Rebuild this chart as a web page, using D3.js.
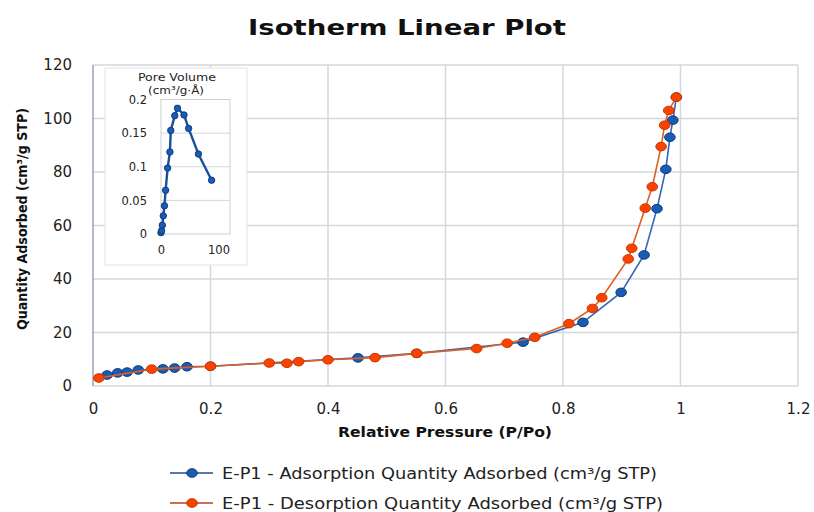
<!DOCTYPE html>
<html>
<head>
<meta charset="utf-8">
<script src="https://cdn.jsdelivr.net/npm/d3@7"></script>
<style>
  body { margin: 0; background: #fff; }
  text { font-family: "DejaVu Sans", sans-serif; }
</style>
</head>
<body>
<div id="chart"></div>
<script>
// isotherm, adsorption branch (P/Po, cm3/g STP)
var adsP = [0.024, 0.042, 0.058, 0.077, 0.119, 0.139, 0.16, 0.2, 0.451, 0.551, 0.732, 0.834, 0.899, 0.938, 0.96, 0.975, 0.982, 0.987, 0.993]
var adsQ = [4.1, 4.9, 5.2, 6.0, 6.4, 6.7, 7.2, 7.4, 10.5, 12.2, 16.4, 23.8, 35, 49, 66.3, 81, 93, 99.4, 108]

// desorption branch
var desP = [0.993, 0.98, 0.973, 0.967, 0.952, 0.94, 0.917, 0.911, 0.866, 0.85, 0.81, 0.752, 0.705, 0.653, 0.551, 0.48, 0.40, 0.35, 0.33, 0.30, 0.2, 0.1, 0.01]
var desQ = [108, 103, 97.5, 89.5, 74.5, 66.5, 51.5, 47.5, 33, 29, 23.3, 18.2, 16, 14, 12.2, 10.6, 9.8, 9.1, 8.5, 8.6, 7.4, 6.3, 3]

// inset: pore volume vs pore width
var poreW = [0, 1, 2.3, 4, 6, 8, 11.5, 15.5, 17, 24, 28.7, 40, 48, 65, 88]
var poreV = [0.002, 0.005, 0.013, 0.027, 0.042, 0.065, 0.098, 0.122, 0.154, 0.176, 0.187, 0.177, 0.157, 0.119, 0.08]

var xTicks = [0, 0.2, 0.4, 0.6, 0.8, 1, 1.2]
var yTicks = [0, 20, 40, 60, 80, 100, 120]
var insetYTicks = [0, 0.05, 0.1, 0.15, 0.2]
var insetXTicks = [0, 100]

var seriesNames = [
  "E-P1 - Adsorption Quantity Adsorbed (cm³/g STP)",
  "E-P1 - Desorption Quantity Adsorbed (cm³/g STP)"
]

var W = 814, H = 512
var svg = d3.select("#chart").append("svg")
  .attr("width", W)
  .attr("height", H)

var x = d3.scaleLinear().domain([0, 1.2]).range([93, 798])
var y = d3.scaleLinear().domain([0, 120]).range([386, 65])

// title
svg.append("text")
  .attr("x", 407).attr("y", 35)
  .attr("text-anchor", "middle")
  .attr("font-size", 22)
  .attr("font-weight", "bold")
  .attr("fill", "#111")
  .attr("textLength", 318)
  .attr("lengthAdjust", "spacingAndGlyphs")
  .text("Isotherm Linear Plot")

// gridlines
var grid = svg.append("g").attr("stroke", "#d3d7de").attr("stroke-width", 1.5)
grid.selectAll("line.h").data(yTicks).join("line")
  .attr("x1", x(0)).attr("x2", x(1.2))
  .attr("y1", d => y(d)).attr("y2", d => y(d))
grid.selectAll("line.v").data(xTicks.slice(1)).join("line")
  .attr("x1", d => x(d)).attr("x2", d => x(d))
  .attr("y1", y(0)).attr("y2", y(120))

svg.append("line")
  .attr("x1", x(0)).attr("x2", x(0))
  .attr("y1", y(0)).attr("y2", y(120))
  .attr("stroke", "#9aa3b2").attr("stroke-width", 1.5)

// axes (labels only)
var fmt = d3.format("~g")
var xAxis = svg.append("g")
  .attr("transform", `translate(0,${y(0)})`)
  .call(d3.axisBottom(x).tickValues(xTicks).tickSize(0).tickPadding(17).tickFormat(fmt))
var yAxis = svg.append("g")
  .attr("transform", `translate(${x(0)},0)`)
  .call(d3.axisLeft(y).tickValues(yTicks).tickSize(0).tickPadding(21))
;[xAxis, yAxis].forEach(g => {
  g.select(".domain").remove()
  g.selectAll("text")
    .attr("font-family", "DejaVu Sans, sans-serif")
    .attr("font-size", 15)
    .attr("fill", "#222")
})

// axis titles
svg.append("text")
  .attr("x", 445).attr("y", 437)
  .attr("text-anchor", "middle")
  .attr("font-size", 14)
  .attr("font-weight", "bold")
  .attr("fill", "#111")
  .attr("textLength", 214)
  .attr("lengthAdjust", "spacingAndGlyphs")
  .text("Relative Pressure (P/Po)")

svg.append("text")
  .attr("transform", "translate(27,219) rotate(-90)")
  .attr("text-anchor", "middle")
  .attr("font-size", 14)
  .attr("font-weight", "bold")
  .attr("fill", "#111")
  .attr("textLength", 222)
  .attr("lengthAdjust", "spacingAndGlyphs")
  .text("Quantity Adsorbed (cm³/g STP)")

// series
var series = [
  { p: adsP, q: adsQ, line: "#3467b3", fill: "#1a5cb0", stroke: "#0c3c86" },
  { p: desP, q: desQ, line: "#df5f22", fill: "#fb4300", stroke: "#c83600" }
]

var line = d3.line().x(d => x(d[0])).y(d => y(d[1]))

series.forEach(s => {
  var pts = s.p.map((p, i) => [p, s.q[i]])
  svg.append("path")
    .datum(pts)
    .attr("d", line)
    .attr("fill", "none")
    .attr("stroke", s.line)
    .attr("stroke-width", 1.6)
  svg.append("g").selectAll("ellipse").data(pts).join("ellipse")
    .attr("cx", d => x(d[0])).attr("cy", d => y(d[1]))
    .attr("rx", 5.3).attr("ry", 4.3)
    .attr("fill", s.fill)
    .attr("stroke", s.stroke)
    .attr("stroke-width", 1)
})

// inset
svg.append("rect")
  .attr("x", 105).attr("y", 68)
  .attr("width", 142).attr("height", 197)
  .attr("fill", "#fff")
  .attr("stroke", "#e3e3e3")

var ix = d3.scaleLinear().domain([0, 120]).range([161, 230])
var iy = d3.scaleLinear().domain([0, 0.2]).range([234, 99.5])

svg.append("g").attr("stroke", "#d6d6d6").attr("stroke-width", 1)
  .selectAll("line").data(insetYTicks.slice(1, 4)).join("line")
  .attr("x1", ix(0)).attr("x2", ix(120))
  .attr("y1", d => iy(d)).attr("y2", d => iy(d))
svg.append("rect")
  .attr("x", ix(0)).attr("y", iy(0.2))
  .attr("width", ix(120) - ix(0)).attr("height", iy(0) - iy(0.2))
  .attr("fill", "none").attr("stroke", "#cfcfcf")

var iyAxis = svg.append("g")
  .attr("transform", `translate(${ix(0)},0)`)
  .call(d3.axisLeft(iy).tickValues(insetYTicks).tickSize(0).tickPadding(14).tickFormat(fmt))
var ixAxis = svg.append("g")
  .attr("transform", `translate(0,${iy(0)})`)
  .call(d3.axisBottom(ix).tickValues(insetXTicks).tickSize(0).tickPadding(12))
;[iyAxis, ixAxis].forEach(g => {
  g.select(".domain").remove()
  g.selectAll("text")
    .attr("font-family", "DejaVu Sans, sans-serif")
    .attr("font-size", 11.5)
    .attr("fill", "#222")
})

svg.append("text")
  .attr("x", 177).attr("y", 81)
  .attr("text-anchor", "middle")
  .attr("font-size", 10.5)
  .attr("fill", "#222")
  .attr("textLength", 78)
  .attr("lengthAdjust", "spacingAndGlyphs")
  .text("Pore Volume")
svg.append("text")
  .attr("x", 176).attr("y", 94)
  .attr("text-anchor", "middle")
  .attr("font-size", 10)
  .attr("fill", "#222")
  .attr("textLength", 56)
  .attr("lengthAdjust", "spacingAndGlyphs")
  .text("(cm³/g·Å)")

var ipts = poreW.map((w, i) => [w, poreV[i]])
svg.append("path")
  .datum(ipts)
  .attr("d", d3.line().x(d => ix(d[0])).y(d => iy(d[1])))
  .attr("fill", "none")
  .attr("stroke", "#1b4f9e")
  .attr("stroke-width", 2.4)
svg.append("g").selectAll("circle").data(ipts).join("circle")
  .attr("cx", d => ix(d[0])).attr("cy", d => iy(d[1]))
  .attr("r", 3.2)
  .attr("fill", "#1a5cb0")
  .attr("stroke", "#0c3c86")
  .attr("stroke-width", 1)

// legend
var legend = svg.append("g")
series.forEach((s, i) => {
  var ly = 473 + i * 30
  legend.append("line")
    .attr("x1", 170).attr("x2", 213)
    .attr("y1", ly).attr("y2", ly)
    .attr("stroke", i == 0 ? "#22479e" : "#c53a1c")
    .attr("stroke-width", 1.6)
  legend.append("ellipse")
    .attr("cx", 192).attr("cy", ly)
    .attr("rx", 5.3).attr("ry", 4.3)
    .attr("fill", s.fill)
    .attr("stroke", s.stroke)
  legend.append("text")
    .attr("x", 222).attr("y", ly + 5.5)
    .attr("font-size", 15)
    .attr("fill", "#222")
    .attr("textLength", i == 0 ? 435 : 441)
    .attr("lengthAdjust", "spacingAndGlyphs")
    .text(seriesNames[i])
})
</script>
</body>
</html>
